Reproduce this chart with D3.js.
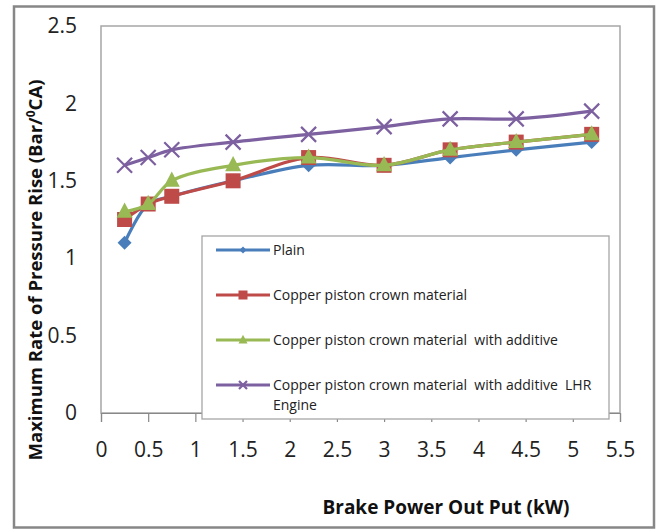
<!DOCTYPE html>
<html><head><meta charset="utf-8">
<script src="https://cdn.jsdelivr.net/npm/d3@7"></script>
<style>body{margin:0;background:#fff}svg{display:block}text{font-family:"Open Sans",sans-serif}</style>
</head><body><svg id="c" width="656" height="529"></svg>
<script>
const xValues = [0.25, 0.5, 0.75, 1.4, 2.2, 3.0, 3.7, 4.4, 5.2];
const plain = [1.1, 1.35, 1.4, 1.5, 1.6, 1.6, 1.65, 1.7, 1.75];
const copper = [1.25, 1.35, 1.4, 1.5, 1.65, 1.6, 1.7, 1.75, 1.8];
const copperAdditive = [1.3, 1.35, 1.5, 1.6, 1.65, 1.6, 1.7, 1.75, 1.8];
const copperAdditiveLHR = [1.6, 1.65, 1.7, 1.75, 1.8, 1.85, 1.9, 1.9, 1.95];
const seriesNames = ["Plain", "Copper piston crown material", "Copper piston crown material  with additive", "Copper piston crown material  with additive  LHR|Engine"];
const xTicks = [0, 0.5, 1, 1.5, 2, 2.5, 3, 3.5, 4, 4.5, 5, 5.5];
const yTicks = [0, 0.5, 1, 1.5, 2, 2.5];

const series = [
  {name: seriesNames[0], values: plain, color: "#4a7ebb", marker: "diamond"},
  {name: seriesNames[1], values: copper, color: "#be4b48", marker: "square"},
  {name: seriesNames[2], values: copperAdditive, color: "#98b954", marker: "triangle"},
  {name: seriesNames[3], values: copperAdditiveLHR, color: "#7d60a0", marker: "x"}
];

const svg = d3.select("#c");
// outer frame
svg.append("rect").attr("x",14).attr("y",6.5).attr("width",640).attr("height",521)
  .attr("fill","none").attr("stroke","#878787").attr("stroke-width",2.5);

const L=101, R=620, T=26, B=413;
const x = d3.scaleLinear().domain([0,5.5]).range([L,R]);
const y = d3.scaleLinear().domain([0,2.5]).range([B,T]);

// plot box
svg.append("rect").attr("x",L).attr("y",T).attr("width",R-L).attr("height",B-T)
  .attr("fill","none").attr("stroke","#a6a6a6").attr("stroke-width",1.5);

// x axis
const xa = svg.append("g").attr("transform",`translate(0,${B})`)
  .call(d3.axisBottom(x).tickValues(xTicks).tickSize(9).tickPadding(20).tickFormat(d3.format("")));
xa.select(".domain").attr("stroke","#888").attr("stroke-width",1.2);
xa.selectAll(".tick line").attr("stroke","#888").attr("stroke-width",1.2);
xa.selectAll(".tick text").attr("font-size",21).attr("fill","#222").attr("font-family","Open Sans");

// y axis labels
const ya = svg.append("g").attr("transform",`translate(${L},0)`)
  .call(d3.axisLeft(y).tickValues(yTicks).tickSize(0).tickPadding(24).tickFormat(d3.format("")));
ya.select(".domain").remove();
ya.selectAll(".tick text").attr("font-size",21).attr("fill","#222").attr("font-family","Open Sans");

// lines
const line = d3.line().x((d,i)=>x(xValues[i])).y(d=>y(d)).curve(d3.curveCatmullRom.alpha(0.5));
function marker(g, type, cx, cy, s, color){
  if(type==="diamond"){
    g.append("path").attr("d",`M${cx},${cy-s}L${cx+s},${cy}L${cx},${cy+s}L${cx-s},${cy}Z`).attr("fill",color);
  } else if(type==="square"){
    g.append("rect").attr("x",cx-s).attr("y",cy-s).attr("width",2*s).attr("height",2*s).attr("fill",color);
  } else if(type==="triangle"){
    g.append("path").attr("d",`M${cx},${cy-s*1.15}L${cx+s},${cy+s*0.75}L${cx-s},${cy+s*0.75}Z`).attr("fill",color);
  } else {
    g.append("path").attr("d",`M${cx-s},${cy-s}L${cx+s},${cy+s}M${cx-s},${cy+s}L${cx+s},${cy-s}`)
      .attr("stroke",color).attr("stroke-width",2.2).attr("fill","none");
  }
}
const msize = {diamond:7, square:7.5, triangle:8, x:7.5};
series.forEach(s=>{
  const g = svg.append("g");
  g.append("path").datum(s.values).attr("d",line).attr("fill","none")
    .attr("stroke",s.color).attr("stroke-width",3.2);
  s.values.forEach((v,i)=>marker(g, s.marker, x(xValues[i]), y(v), msize[s.marker], s.color));
});

// legend
const lg = svg.append("g");
lg.append("rect").attr("x",202).attr("y",236).attr("width",407).attr("height",183)
  .attr("fill","#fff").attr("stroke","#a6a6a6").attr("stroke-width",1.3);
const ly = [250, 295, 340, 385];
const lms = {diamond:3.5, square:4.5, triangle:4.5, x:4};
series.forEach((s,i)=>{
  lg.append("line").attr("x1",216).attr("x2",270).attr("y1",ly[i]).attr("y2",ly[i])
    .attr("stroke",s.color).attr("stroke-width",3.2);
  marker(lg, s.marker, 243, ly[i], lms[s.marker], s.color);
  const parts = s.name.split("|");
  const t = lg.append("text").attr("x",273).attr("y",ly[i])
    .attr("font-size",14).attr("fill","#222").style("white-space","pre").attr("xml:space","preserve");
  parts.forEach((p,j)=>{
    t.append("tspan").attr("x",273).attr("dy", j===0 ? "0.35em" : "1.45em").text(p);
  });
});

// axis titles
svg.append("text").attr("x",446).attr("y",514).attr("text-anchor","middle")
  .attr("font-size",19).attr("font-weight","bold").attr("fill","#111").text("Brake Power Out Put (kW)");
const yt = svg.append("text").attr("transform","translate(42,270) rotate(-90)").attr("text-anchor","middle")
  .attr("font-size",18.5).attr("font-weight","bold").attr("fill","#111");
yt.append("tspan").text("Maximum Rate of Pressure Rise (Bar/");
yt.append("tspan").attr("dy",-7).attr("font-size",12).text("0");
yt.append("tspan").attr("dy",7).text("CA)");
</script></body></html>
